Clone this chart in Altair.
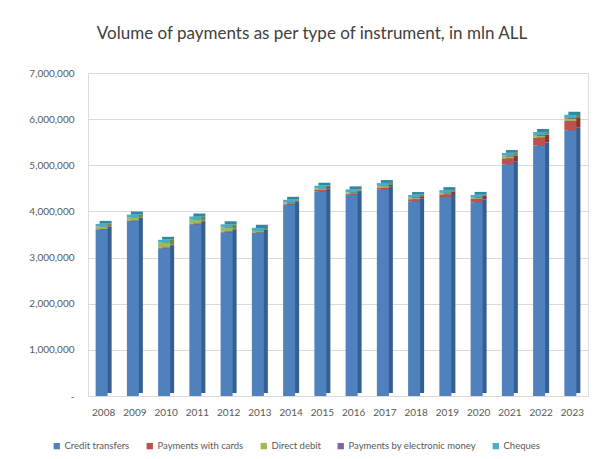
import altair as alt
import pandas as pd

years = [str(y) for y in range(2008, 2024)]
instruments = ["Credit transfers", "Payments with cards", "Direct debit",
               "Payments by electronic money", "Cheques"]
colors = ["#4F81BD", "#C0504D", "#9BBB59", "#8064A2", "#4BACC6"]
side_colors = ["#355F93", "#8E3431", "#6F8A3C", "#5A4676", "#2F88A0"]

credit_transfers = [3610000, 3790000, 3200000, 3720000, 3550000, 3530000, 4150000, 4440000,
                    4360000, 4480000, 4220000, 4310000, 4200000, 5020000, 5430000, 5760000]
payments_with_cards = [10000, 12000, 15000, 15000, 15000, 15000, 20000, 25000,
                       25000, 30000, 45000, 60000, 70000, 130000, 170000, 200000]
direct_debit = [50000, 65000, 110000, 85000, 85000, 30000, 20000, 30000,
                25000, 40000, 30000, 25000, 20000, 45000, 45000, 50000]
electronic_money = [0, 0, 0, 0, 1000, 1000, 2000, 2000,
                    3000, 4000, 5000, 6000, 8000, 10000, 12000, 15000]
cheques = [60000, 65000, 60000, 70000, 70000, 70000, 60000, 60000,
           65000, 60000, 55000, 60000, 60000, 60000, 65000, 70000]

series = [credit_transfers, payments_with_cards, direct_debit, electronic_money, cheques]
rows = []
for k, (name, vals) in enumerate(zip(instruments, series)):
    for y, v in zip(years, vals):
        rows.append({"year": y, "instrument": name, "side": name + " ", "value": v, "order": k})
df = pd.DataFrame(rows)

FONT = "Lato"
GRAY = "#595959"

x_enc = alt.X("year:N", title=None, sort=years,
              axis=alt.Axis(labelAngle=0, ticks=False, domain=False, labelPadding=11,
                            labelFontSize=10, labelColor=GRAY, labelFont=FONT))
y_enc = alt.Y("value:Q", title=None, stack="zero",
              scale=alt.Scale(domain=[0, 7000000], nice=False),
              axis=alt.Axis(values=list(range(0, 7000001, 1000000)),
                            labelExpr="datum.value == 0 ? '-  ' : format(datum.value, ',')",
                            ticks=False, domain=False, labelPadding=14,
                            labelFontSize=10, labelColor=GRAY, labelFont=FONT,
                            gridColor="#D9D9D9", gridWidth=1))

back = alt.Chart(df).mark_bar(width=12, xOffset=2, yOffset=-3).encode(
    x=x_enc, y=y_enc,
    color=alt.Color("side:N", legend=None,
                    scale=alt.Scale(domain=[n + " " for n in instruments], range=side_colors)),
    order=alt.Order("order:Q", sort="ascending"),
)

front = alt.Chart(df).mark_bar(width=12, xOffset=-2).encode(
    x=x_enc, y=y_enc,
    color=alt.Color("instrument:N", sort=instruments,
                    scale=alt.Scale(domain=instruments, range=colors),
                    legend=alt.Legend(title=None, orient="none", direction="horizontal",
                                      legendX=-36, legendY=368, symbolType="square",
                                      symbolSize=40, symbolStrokeWidth=0,
                                      labelFontSize=9.5, labelColor=GRAY, labelFont=FONT,
                                      columnPadding=15, symbolOffset=0, labelOffset=3)),
    order=alt.Order("order:Q", sort="ascending"),
    tooltip=["year:N", "instrument:N", "value:Q"],
)

chart = alt.layer(back, front).resolve_scale(color="independent").properties(
    width=500, height=323,
    autosize=alt.AutoSizeParams(type="none"),
    padding={"left": 88, "top": 73, "right": 14, "bottom": 63},
    title=alt.TitleParams("Volume of payments as per type of instrument, in mln ALL",
                          font=FONT, fontSize=17, fontWeight="normal", color="#404040",
                          offset=25, dx=-26),
).configure_view(stroke=None).configure(background="white")

chart.save("out.html", embed_options={"renderer": "svg", "actions": False})
